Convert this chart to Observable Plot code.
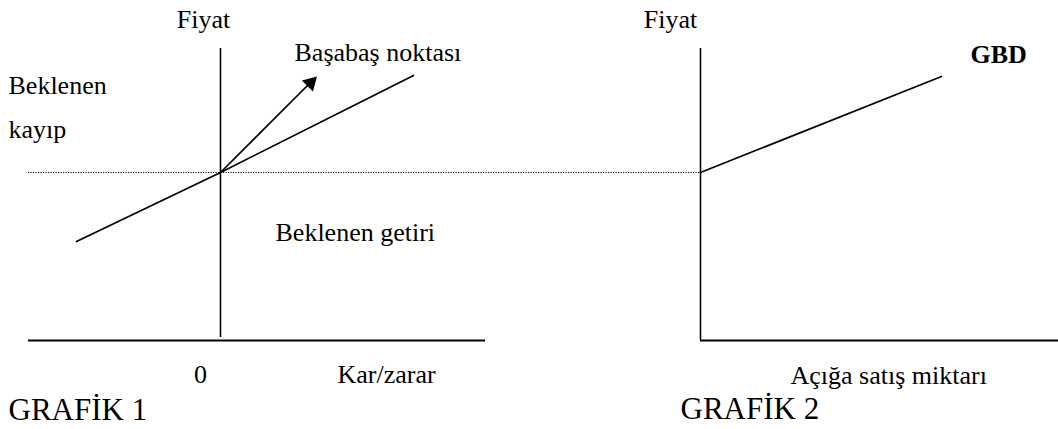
<!DOCTYPE html>
<html>
<head>
<meta charset="utf-8">
<script src="https://cdn.jsdelivr.net/npm/d3@7"></script>
<script src="https://cdn.jsdelivr.net/npm/@observablehq/plot@0.6"></script>
<style>
  html, body { margin: 0; padding: 0; background: #fff; }
  svg { display: block; }
</style>
</head>
<body>
<div id="chart"></div>
<script>
// ---- Schematic data (diagram units: x = kar/zarar | açığa satış, y = fiyat) ----
const priceLevel = 168;                       // break-even price (dotted line)
const dottedSpan = [{x1: -192, x2: 480}];      // dotted line from left edge to Grafik 2 axis
const verticalAxes = [                         // "Fiyat" axes
  {graph: "GRAFİK 1", x: 0,   y1: 3, y2: 292},
  {graph: "GRAFİK 2", x: 480, y1: 0, y2: 292}
];
const horizontalAxes = [                       // x axes
  {graph: "GRAFİK 1", x1: -192, x2: 265},
  {graph: "GRAFİK 2", x1: 480,  x2: 838}
];
const profitLine = [                           // Grafik 1 kar/zarar line
  {x: -144, y: 99}, {x: 0, y: 168}, {x: 193, y: 265}
];
const breakEvenArrow = [{x1: 0, y1: 168, x2: 90, y2: 258}];
const arrowHead = [{x: 90.1, y: 257.6}];
const gbdLine = [{x: 480, y: 168}, {x: 721, y: 264}];   // Grafik 2 GBD line

const centeredLabels = [
  {text: "Fiyat", x: -17, y: 313},
  {text: "0",     x: -20, y: -42},
  {text: "Fiyat", x: 450, y: 313}
];
const leftLabels = [
  {text: "Başabaş noktası",     x: 74,   y: 280},
  {text: "Beklenen",            x: -212, y: 247},
  {text: "kayıp",               x: -212, y: 203},
  {text: "Beklenen getiri",     x: 55,   y: 100},
  {text: "Kar/zarar",           x: 117,  y: -42},
  {text: "Açığa satış miktarı", x: 570,  y: -43}
];
const boldLabels = [{text: "GBD", x: 750, y: 278}];
const titles = [
  {text: "GRAFİK 1", x: -212, y: -79},
  {text: "GRAFİK 2", x: 460,  y: -78}
];

const font = "'Liberation Serif', 'Times New Roman', serif";

const chart = Plot.plot({
  width: 1058,
  height: 429,
  margin: 0,
  x: {domain: [-220, 838], axis: null},
  y: {domain: [-89, 340], axis: null},
  style: {background: "#fff", fontFamily: font, color: "#000"},
  marks: [
    Plot.ruleY(dottedSpan, {y: () => priceLevel, x1: "x1", x2: "x2", stroke: "#000", strokeWidth: 1.2, strokeDasharray: "1.2,1.3"}),
    Plot.ruleX(verticalAxes, {x: "x", y1: "y1", y2: "y2", stroke: "#000", strokeWidth: 1.6}),
    Plot.ruleY(horizontalAxes, {y: () => 0, x1: "x1", x2: "x2", stroke: "#000", strokeWidth: 2}),
    Plot.line(profitLine, {x: "x", y: "y", stroke: "#000", strokeWidth: 1.7, curve: "linear"}),
    Plot.link(breakEvenArrow, {x1: "x1", y1: "y1", x2: "x2", y2: "y2", stroke: "#000", strokeWidth: 1.7}),
    Plot.dot(arrowHead, {x: "x", y: "y", symbol: "triangle", r: 5.8, rotate: 45, fill: "#000", stroke: "none"}),
    Plot.line(gbdLine, {x: "x", y: "y", stroke: "#000", strokeWidth: 1.7}),
    Plot.text(centeredLabels, {x: "x", y: "y", text: "text", textAnchor: "middle", lineAnchor: "bottom", fontSize: 26, fontFamily: font, fill: "#000"}),
    Plot.text(leftLabels, {x: "x", y: "y", text: "text", textAnchor: "start", lineAnchor: "bottom", fontSize: 26, fontFamily: font, fill: "#000"}),
    Plot.text(boldLabels, {x: "x", y: "y", text: "text", textAnchor: "start", lineAnchor: "bottom", fontSize: 26, fontWeight: "bold", fontFamily: font, fill: "#000"}),
    Plot.text(titles, {x: "x", y: "y", text: "text", textAnchor: "start", lineAnchor: "bottom", fontSize: 31, fontFamily: font, fill: "#000"})
  ]
});
document.getElementById("chart").appendChild(chart);
</script>
</body>
</html>
